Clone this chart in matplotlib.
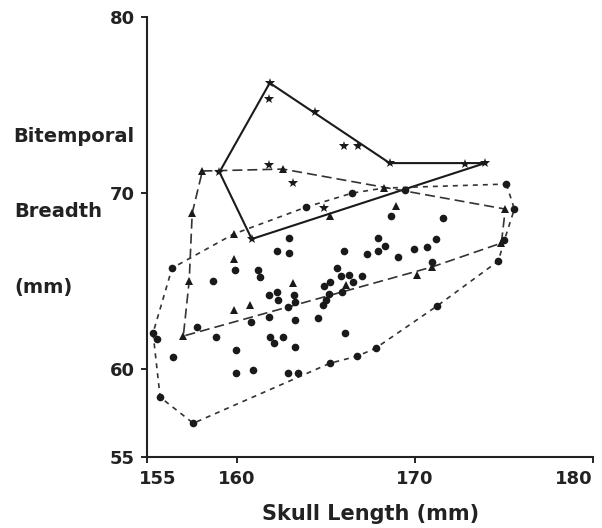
import numpy as np
import matplotlib
matplotlib.use("Agg")
import matplotlib.pyplot as plt
import matplotlib.transforms as mtransforms

plt.rcParams['font.family'] = ['DejaVu Sans']

# stars (solid outline)
star_x = [161.86, 161.81, 164.41, 166.05, 166.84, 168.59, 172.82, 173.95,
          160.85, 159.04, 161.81, 163.16, 164.92]
star_y = [76.25, 75.34, 74.60, 72.67, 72.67, 71.70, 71.65, 71.70,
          67.39, 71.19, 71.59, 70.57, 69.15]
star_hull_x = [161.86, 168.59, 173.95, 160.85, 159.04, 161.86]
star_hull_y = [76.25, 71.70, 71.70, 67.39, 71.19, 76.25]

# triangles (long dashes)
tri_x = [158.08, 157.51, 159.83, 162.60, 159.83, 163.16, 159.83, 160.73, 157.01,
         157.34, 165.25, 168.93, 166.16, 168.25, 175.08, 174.86, 170.96, 170.11]
tri_y = [71.25, 68.86, 67.67, 71.36, 66.25, 64.89, 63.35, 63.64, 61.88,
         65.00, 68.69, 69.26, 64.77, 70.28, 69.09, 67.16, 65.80, 65.34]
tri_hull_x = [158.08, 162.60, 175.08, 174.86, 170.96, 157.01, 157.34, 157.51, 158.08]
tri_hull_y = [71.25, 71.36, 69.09, 67.16, 65.80, 61.88, 65.00, 68.86, 71.25]

# circles (short dashes)
circ_x = [162.94, 162.26, 162.94, 166.05, 167.91, 168.31, 167.91, 167.34, 169.04, 169.94,
          170.68, 170.96, 165.65, 165.88, 166.33, 167.06, 166.55, 165.25, 164.92, 165.93,
          165.20, 165.03, 164.86, 159.89, 161.19, 161.30, 158.70, 161.81, 162.26, 162.32,
          163.22, 163.28, 162.88, 161.81, 160.79, 163.28, 164.58, 157.80, 158.87, 161.86,
          162.09, 162.60, 166.10, 155.31, 155.54, 156.44, 159.94, 163.28, 159.94, 160.90,
          162.88, 163.45, 165.25, 166.78, 167.80, 155.71, 157.57, 156.38, 163.90, 166.50,
          168.64, 171.58, 171.19, 175.14, 175.59, 175.03, 174.69, 171.24, 169.44]
circ_y = [67.44, 66.70, 66.59, 66.70, 67.44, 66.99, 66.70, 66.53, 66.36, 66.82,
          66.93, 66.08, 65.74, 65.28, 65.34, 65.28, 64.94, 64.94, 64.72, 64.38,
          64.26, 63.92, 63.64, 65.63, 65.63, 65.23, 65.00, 64.20, 64.38, 63.92,
          64.20, 63.81, 63.52, 62.95, 62.67, 62.78, 62.90, 62.39, 61.82, 61.82,
          61.48, 61.82, 62.05, 62.05, 61.70, 60.68, 61.08, 61.25, 59.77, 59.94,
          59.77, 59.77, 60.34, 60.74, 61.19, 58.41, 56.93, 65.74, 69.20, 70.00,
          68.69, 68.58, 67.39, 70.51, 69.09, 67.33, 66.14, 63.58, 70.17]
circ_hull_x = [175.14, 175.59, 175.03, 174.69, 171.24, 167.80, 166.78, 165.25, 157.57,
               155.71, 155.31, 156.38, 159.83, 163.90, 166.50, 168.25, 175.14]
circ_hull_y = [70.51, 69.09, 67.33, 66.14, 63.58, 61.19, 60.74, 60.34, 56.93,
               58.41, 62.05, 65.74, 67.67, 69.20, 70.00, 70.28, 70.51]

xticks = [155, 160, 170, 180]
yticks = [55, 60, 70, 80]

fig = plt.figure(figsize=(6.02, 5.28), dpi=100)
ax = fig.add_axes([0.245, 0.134, 0.74, 0.834])

ax.plot(star_hull_x, star_hull_y, color='#1a1a1a', lw=1.5)
ax.plot(tri_hull_x, tri_hull_y, color='#333333', lw=1.2, dashes=(6, 3))
ax.plot(circ_hull_x, circ_hull_y, color='#333333', lw=1.2, dashes=(3, 3))

ax.plot(circ_x, circ_y, 'o', color='#1a1a1a', ms=5.5, mew=0)
ax.plot(tri_x, tri_y, '^', color='#1a1a1a', ms=5.5, mew=0)
ax.plot(star_x, star_y, '*', color='#1a1a1a', ms=7, mew=0)

ax.set_xlim(155, 180)
ax.set_ylim(55, 80)
ax.set_xticks(xticks)
ax.set_yticks(yticks)
ax.tick_params(direction='out', length=4, width=1.2, labelsize=13, pad=5)
for lab in ax.get_xticklabels() + ax.get_yticklabels():
    lab.set_fontweight('bold')
    lab.set_color('#222222')
xl = ax.get_xticklabels()
xl[-1].set_horizontalalignment('right')
xl[0].set_horizontalalignment('left')
xl[0].set_transform(xl[0].get_transform() +
                    mtransforms.ScaledTranslation(-6 / 72, 0, fig.dpi_scale_trans))
for s in ['top', 'right']:
    ax.spines[s].set_visible(False)
for s in ['left', 'bottom']:
    ax.spines[s].set_linewidth(1.5)
    ax.spines[s].set_color('#222222')

ax.set_xlabel('Skull Length (mm)', fontsize=15, fontweight='bold', color='#222222', labelpad=12)
fig.text(0.022, 0.741, 'Bitemporal', fontsize=14, fontweight='bold', color='#222222', va='center')
fig.text(0.024, 0.600, 'Breadth', fontsize=14, fontweight='bold', color='#222222', va='center')
fig.text(0.024, 0.456, '(mm)', fontsize=14, fontweight='bold', color='#222222', va='center')

fig.savefig('out.png', dpi=100, facecolor='white')
